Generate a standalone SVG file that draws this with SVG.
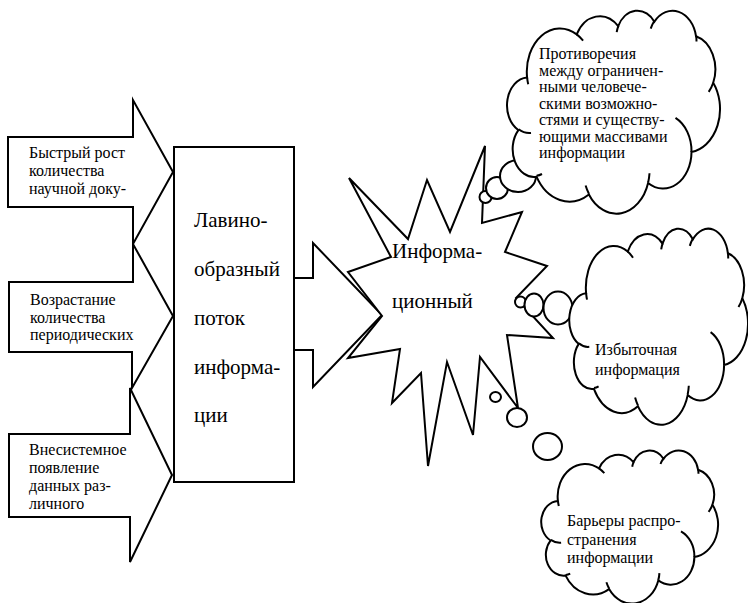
<svg xmlns="http://www.w3.org/2000/svg" width="748" height="603" viewBox="0 0 748 603" xml:lang="ru" lang="ru">
<style>
.s{fill:#fff;stroke:#000;stroke-width:2}
.cr{fill:none;stroke:#000;stroke-width:2}
</style>
<rect width="748" height="603" fill="#fff"/>

<g id="arrow1" font-family="Times New Roman" font-size="16">
<path class="s" d="M8,137 H133 V100 L173,172 L133,244 V207 H8 Z"/>
<text font-family="Times New Roman" x="29" y="158"><tspan>Быстрый рост</tspan></text>
<text font-family="Times New Roman" x="29" y="176"><tspan>количества</tspan></text>
<text font-family="Times New Roman" x="29" y="194"><tspan>научной доку-</tspan></text>
</g>
<g id="arrow2" font-family="Times New Roman" font-size="16">
<path class="s" d="M9,282 H133 V244 L173,316 L132,388 V352 H9 Z"/>
<text font-family="Times New Roman" x="30" y="305"><tspan>Возрастание</tspan></text>
<text font-family="Times New Roman" x="30" y="322.5"><tspan>количества</tspan></text>
<text font-family="Times New Roman" x="30" y="339.5"><tspan>периодических</tspan></text>
</g>
<g id="arrow3" font-family="Times New Roman" font-size="16">
<path class="s" d="M9,434 H130 V388 L172,475 L130,562 V517 H9 Z"/>
<text font-family="Times New Roman" x="29" y="454.5"><tspan>Внесистемное</tspan></text>
<text font-family="Times New Roman" x="29" y="472.5"><tspan>появление</tspan></text>
<text font-family="Times New Roman" x="29" y="491"><tspan>данных раз-</tspan></text>
<text font-family="Times New Roman" x="29" y="509"><tspan>личного</tspan></text>
</g>

<g id="connectors">
<path class="s" d="M294,278 H313 V243 L382,315 L313,387 V350 H294"/>
</g>

<g id="flow" font-family="Times New Roman" font-size="21">
<rect class="s" x="174" y="147" width="120" height="335"/>
<text font-family="Times New Roman" x="194" y="227"><tspan>Лавино-</tspan></text>
<text font-family="Times New Roman" x="194" y="276"><tspan>образный</tspan></text>
<text font-family="Times New Roman" x="194" y="325"><tspan>поток</tspan></text>
<text font-family="Times New Roman" x="194" y="373.5"><tspan>информа-</tspan></text>
<text font-family="Times New Roman" x="194" y="422"><tspan>ции</tspan></text>
</g>

<g id="noise" font-family="Times New Roman" font-size="21">
<path class="s" d="M348,272 L391,257 L349,178 L408,239 L427,180 L450,232 L485,146 L482,223 L522,212 L505,252 L547,266 L516,298 L553,338 L507,335 L518,408 L480,357 L473,435 L447,362 L428,466 L421,373 L392,403 L400,349 L348,358 L382,316 Z"/>
<text font-family="Times New Roman" x="392" y="258"><tspan>Информа-</tspan></text>
<text font-family="Times New Roman" x="392" y="308"><tspan>ционный</tspan></text>
</g>

<g id="cloud-top" font-family="Times New Roman" font-size="16">
<circle class="s" cx="485.5" cy="197" r="6"/>
<circle class="s" cx="497" cy="188" r="11"/>
<ellipse class="s" cx="518" cy="176" rx="18" ry="16"/>
<path class="s" d="M527.1,77.5 A33.14,43.18 0 0 1 576.7,34.4 A26.16,34.14 0 0 1 618.2,26.1 A21.41,27.93 0 0 1 654.4,21.7 A23.83,31 0 0 1 696,36.2 A26.16,34.19 0 0 1 713.2,82.7 A33.24,43.32 0 0 1 691.5,151.9 A28.39,36.97 0 0 1 648.1,183 A33.14,43.3 0 0 1 588.9,194.5 A37.88,49.55 0 0 1 536.5,176.7 A21.39,27.81 0 0 1 518.4,130.1 A21.33,27.93 0 0 1 527.1,77.5 Z"/>
<path class="cr" d="M531,133 A21.33,27.93 0 0 1 518.6,129.3 M542,174 A21.39,27.81 0 0 1 536.6,175.8 M588.9,193.7 A33.14,43.3 0 0 1 585.6,185.5 M649.5,173.3 A33.14,43.3 0 0 1 648.2,182.3 M675.5,117.9 A28.39,36.97 0 0 1 691.5,151.9 M713.2,82.7 A26.16,34.19 0 0 1 708.7,91.9 M696.1,35.5 A23.83,31 0 0 1 696.5,41.4 M650.7,28.6 A23.83,31 0 0 1 654.3,21 M616.7,32.2 A21.41,27.93 0 0 1 618.5,25.7 M576.7,34.4 A33.14,43.18 0 0 1 583.1,40.7 M528.2,84.2 A33.14,43.18 0 0 1 527.1,77.5"/>
<text font-family="Times New Roman" x="539" y="59"><tspan>Противоречия</tspan></text>
<text font-family="Times New Roman" x="539" y="76"><tspan>между ограничен-</tspan></text>
<text font-family="Times New Roman" x="539" y="92"><tspan>ными человече-</tspan></text>
<text font-family="Times New Roman" x="539" y="108.5"><tspan>скими возможно-</tspan></text>
<text font-family="Times New Roman" x="539" y="124.5"><tspan>стями и существу-</tspan></text>
<text font-family="Times New Roman" x="539" y="141.5"><tspan>ющими массивами</tspan></text>
<text font-family="Times New Roman" x="539" y="158"><tspan>информации</tspan></text>
</g>

<g id="cloud-middle" font-family="Times New Roman" font-size="16">
<circle class="s" cx="520.5" cy="302" r="5.5"/>
<ellipse class="s" cx="534" cy="305" rx="9.5" ry="11.5"/>
<ellipse class="s" cx="558" cy="308" rx="14.5" ry="16.5"/>
<path class="s" d="M586.1,293.2 A27.82,41.69 0 0 1 627.7,251.6 A21.97,32.97 0 0 1 662.5,243.6 A17.98,26.97 0 0 1 692.9,239.3 A20.01,29.93 0 0 1 727.9,253.3 A21.97,33.01 0 0 1 742.3,298.2 A27.91,41.83 0 0 1 724.1,365 A23.83,35.69 0 0 1 687.7,395.1 A27.82,41.81 0 0 1 637.9,406.2 A31.81,47.84 0 0 1 593.9,388.9 A17.96,26.85 0 0 1 578.7,343.9 A17.91,26.97 0 0 1 586.1,293.2 Z"/>
<path class="cr" d="M589.3,346.8 A17.91,26.97 0 0 1 578.9,343.2 M598.6,386.3 A17.96,26.85 0 0 1 594,388.1 M637.9,405.4 A27.82,41.81 0 0 1 635.1,397.5 M688.8,385.7 A27.82,41.81 0 0 1 687.7,394.3 M710.6,332.1 A23.83,35.69 0 0 1 724.1,365 M742.3,298.2 A21.97,33.01 0 0 1 738.5,307.1 M727.9,252.6 A20.01,29.93 0 0 1 728.2,258.4 M689.8,245.9 A20.01,29.93 0 0 1 692.9,238.6 M661.2,249.4 A17.98,26.97 0 0 1 662.7,243.1 M627.7,251.6 A27.82,41.69 0 0 1 633,257.7 M587,299.6 A27.82,41.69 0 0 1 586.1,293.2"/>
<text font-family="Times New Roman" x="595" y="355"><tspan>Избыточная</tspan></text>
<text font-family="Times New Roman" x="595" y="374.5"><tspan>информация</tspan></text>
</g>

<g id="cloud-bottom" font-family="Times New Roman" font-size="16">
<ellipse class="s" cx="495.5" cy="397" rx="5.5" ry="5"/>
<ellipse class="s" cx="517" cy="417.5" rx="10" ry="9.5"/>
<ellipse class="s" cx="547.5" cy="446.5" rx="14.5" ry="13.5"/>
<path class="s" d="M557.9,500.9 A27.51,32.54 0 0 1 599.1,468.4 A21.72,25.73 0 0 1 633.5,462.2 A17.78,21.05 0 0 1 663.5,458.8 A19.78,23.36 0 0 1 698.1,469.8 A21.72,25.77 0 0 1 712.4,504.8 A27.6,32.65 0 0 1 694.4,557 A23.57,27.86 0 0 1 658.3,580.4 A27.51,32.63 0 0 1 609.1,589.1 A31.45,37.35 0 0 1 565.6,575.6 A17.76,20.96 0 0 1 550.6,540.5 A17.71,21.05 0 0 1 557.9,500.9 Z"/>
<path class="cr" d="M561.1,542.7 A17.71,21.05 0 0 1 550.8,539.9 M570.2,573.6 A17.76,20.96 0 0 1 565.7,575 M609.1,588.5 A27.51,32.63 0 0 1 606.4,582.3 M659.4,573.1 A27.51,32.63 0 0 1 658.4,579.8 M681,531.3 A23.57,27.86 0 0 1 694.4,557 M712.4,504.8 A21.72,25.77 0 0 1 708.6,511.8 M698.1,469.2 A19.78,23.36 0 0 1 698.5,473.7 M660.5,464 A19.78,23.36 0 0 1 663.5,458.3 M632.2,466.7 A17.78,21.05 0 0 1 633.7,461.8 M599,468.4 A27.51,32.54 0 0 1 604.3,473.2 M558.8,505.9 A27.51,32.54 0 0 1 557.9,500.9"/>
<text font-family="Times New Roman" x="567" y="526"><tspan>Барьеры распро-</tspan></text>
<text font-family="Times New Roman" x="567" y="544.5"><tspan>странения</tspan></text>
<text font-family="Times New Roman" x="567" y="563"><tspan>информации</tspan></text>
</g>
</svg>
